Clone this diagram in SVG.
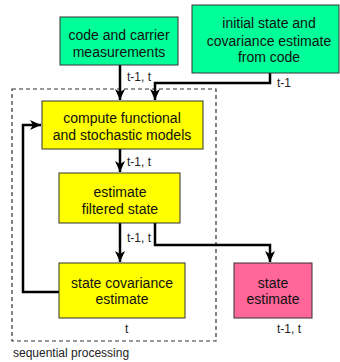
<svg xmlns="http://www.w3.org/2000/svg" width="340" height="362" viewBox="0 0 340 362">
<style>
.box{stroke:#333;stroke-width:1}
.g{fill:#00FF99}.y{fill:#FFFF00}.p{fill:#FF6699}
.bt{font-family:"Liberation Sans",Arial,sans-serif;font-size:14px;fill:#111;text-anchor:middle}
.lt{font-family:"Liberation Sans",Arial,sans-serif;font-size:12px;fill:#222}
.c{fill:none;stroke:#000;stroke-width:2.5;marker-end:url(#ah)}
</style>
<defs>
<marker id="ah" markerUnits="userSpaceOnUse" markerWidth="12" markerHeight="12" viewBox="0 0 12 12" refX="11" refY="6" orient="auto">
<path d="M0,1 L11,6 L0,11 L3,6 z" fill="#000"/>
</marker>
</defs>
<rect x="12" y="89" width="204" height="252" fill="none" stroke="#333" stroke-width="1.2" stroke-dasharray="4,3"/>
<text class="lt" x="13" y="357">sequential processing</text>
<g id="connectors">
<path class="c" d="M120,65 V100"/>
<path class="c" d="M270,73 V83 H155 V100"/>
<path class="c" d="M120,149 V172"/>
<path class="c" d="M120,223 V262"/>
<path class="c" d="M155,223 V245 H270 V262"/>
<path class="c" d="M59,292 H23 V125 H41"/>
<text class="lt" x="127" y="81">t-1, t</text>
<text class="lt" x="277" y="87">t-1</text>
<text class="lt" x="127" y="166">t-1, t</text>
<text class="lt" x="127" y="242">t-1, t</text>
</g>
<g id="code">
<rect class="box g" x="60" y="17" width="118" height="48"/>
<text class="bt" x="119" y="40">code and carrier</text>
<text class="bt" x="119" y="57">measurements</text>
</g>
<g id="initial">
<rect class="box g" x="192" y="5" width="147" height="68"/>
<text class="bt" x="269" y="28">initial state and</text>
<text class="bt" x="269" y="45.5">covariance estimate</text>
<text class="bt" x="269" y="62">from code</text>
</g>
<g id="compute">
<rect class="box y" x="42" y="101" width="161" height="48"/>
<text class="bt" x="122" y="123">compute functional</text>
<text class="bt" x="122" y="140">and stochastic models</text>
</g>
<g id="filtered">
<rect class="box y" x="59" y="173" width="121" height="50"/>
<text class="bt" x="120" y="197">estimate</text>
<text class="bt" x="120" y="213.5">filtered state</text>
</g>
<g id="covariance">
<rect class="box y" x="59" y="263" width="126" height="55"/>
<text class="bt" x="122" y="287.5">state covariance</text>
<text class="bt" x="122" y="304">estimate</text>
<text class="lt" x="125" y="333">t</text>
</g>
<g id="state">
<rect class="box p" x="234" y="263" width="78" height="55"/>
<text class="bt" x="273" y="287.5">state</text>
<text class="bt" x="273" y="304">estimate</text>
<text class="lt" x="277" y="333">t-1, t</text>
</g>
</svg>
